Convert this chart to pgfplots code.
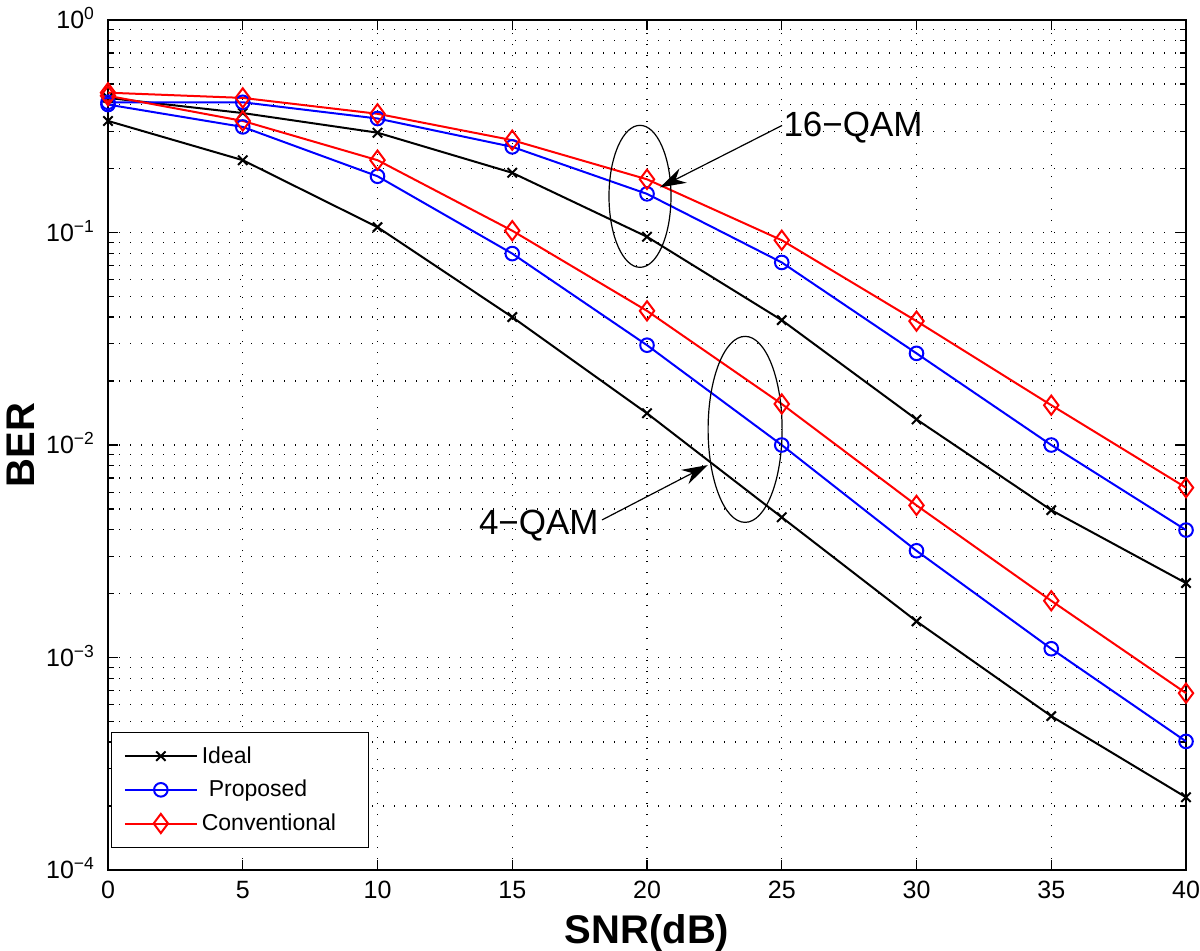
\documentclass[border=0pt]{standalone}
\usepackage{pgfplots}
\pgfplotsset{compat=1.18}
\usepackage{fontspec}
\setmainfont{Liberation Sans}
\usetikzlibrary{arrows.meta}

\begin{document}
\begin{tikzpicture}
\begin{axis}[
  name=ax,
  scale only axis, width=539pt, height=425pt,
  xmin=0, xmax=40, ymin=1e-4, ymax=1,
  ymode=log,
  clip=false,
  /pgf/number format/assume math mode=true,
  axis line style={line width=0.8pt},
  xtick={0,5,...,40},
  ytick={1e-4,1e-3,1e-2,1e-1,1},
  yticklabels={10\textsuperscript{−4},10\textsuperscript{−3},10\textsuperscript{−2},10\textsuperscript{−1},10\textsuperscript{0}},
  minor ytick={2e-4,3e-4,4e-4,5e-4,6e-4,7e-4,8e-4,9e-4,2e-3,3e-3,4e-3,5e-3,6e-3,7e-3,8e-3,9e-3,2e-2,3e-2,4e-2,5e-2,6e-2,7e-2,8e-2,9e-2,0.2,0.3,0.4,0.5,0.6,0.7,0.8,0.9},
  tick align=inside,
  major tick length=5pt, minor tick length=3pt,
  tick style={black, line width=0.6pt},
  xmajorgrids, ymajorgrids, yminorgrids,
  major grid style={black, line width=0.6pt, dash pattern=on 0.7pt off 4.8pt},
  minor grid style={black, line width=0.6pt, dash pattern=on 0.7pt off 4.8pt},
  ticklabel style={font=\fontsize{12.5}{14}\selectfont},
  xticklabel style={yshift=-2pt},
  yticklabel style={anchor=base east, yshift=-4.3pt, xshift=-3pt},
  xlabel={\textbf{SNR(dB)}},
  ylabel={\textbf{BER}},
  label style={font=\fontsize{20}{24}\selectfont},
  xlabel style={at={([yshift=-36.5pt]axis description cs:0.5,0)}, anchor=base},
  ylabel style={at={([xshift=-36.5pt]axis description cs:0,0.5)}, anchor=base},
  legend style={at={(0.003,0.026)}, anchor=south west, draw=black, line width=0.6pt, fill=white,
    font=\fontsize{11.5}{13}\selectfont, row sep=3pt, inner xsep=6pt, inner ysep=5pt, cells={anchor=west}},
  legend image code/.code={\draw[mark repeat=2,mark phase=2] plot coordinates {(0pt,0pt) (18pt,0pt) (36pt,0pt)};},
]
% 16-QAM
\addplot[black, line width=1pt, mark=x, mark size=3.3pt] coordinates {
(0,0.43) (5,0.365) (10,0.295) (15,0.191) (20,0.0955) (25,0.0387) (30,0.0132) (35,0.00494) (40,0.00224)};
\addlegendentry{Ideal}
\addplot[blue, line width=1pt, mark=o, mark size=3.4pt] coordinates {
(0,0.41) (5,0.41) (10,0.344) (15,0.253) (20,0.152) (25,0.0723) (30,0.027) (35,0.0100) (40,0.00398)};
\addlegendentry{\hspace{3.5pt}Proposed}
\addplot[red, line width=1pt, mark=diamond, mark size=4.8pt] coordinates {
(0,0.455) (5,0.43) (10,0.362) (15,0.272) (20,0.178) (25,0.092) (30,0.0383) (35,0.0154) (40,0.0063)};
\addlegendentry{Conventional\hspace*{8pt}}
% 4-QAM
\addplot[black, line width=1pt, mark=x, mark size=3.3pt, forget plot] coordinates {
(0,0.335) (5,0.219) (10,0.106) (15,0.040) (20,0.0141) (25,0.00457) (30,0.00148) (35,0.00053) (40,0.00022)};
\addplot[blue, line width=1pt, mark=o, mark size=3.4pt, forget plot] coordinates {
(0,0.40) (5,0.314) (10,0.184) (15,0.0796) (20,0.0295) (25,0.0100) (30,0.00318) (35,0.00110) (40,0.000403)};
\addplot[red, line width=1pt, mark=diamond, mark size=4.8pt, forget plot] coordinates {
(0,0.44) (5,0.335) (10,0.219) (15,0.102) (20,0.0428) (25,0.0156) (30,0.0052) (35,0.00185) (40,0.00068)};
% annotations
\draw[line width=0.6pt] (axis cs:19.74,0.148) ellipse [x radius=15.5pt, y radius=35.5pt];
\draw[line width=0.6pt] (axis cs:23.64,0.01185) ellipse [x radius=18.5pt, y radius=46.5pt];
\draw[line width=0.6pt, -{Stealth[length=13pt,width=8pt]}] (axis cs:25.01,0.319) -- (axis cs:20.48,0.163);
\node[anchor=west, inner sep=0pt, font=\fontsize{17.5}{20}\selectfont] at (axis cs:25.05,0.312) {16−QAM};
\draw[line width=0.6pt, -{Stealth[length=13pt,width=8pt]}] (axis cs:18.33,0.00444) -- (axis cs:22.26,0.00805);
\node[anchor=east, inner sep=0pt, font=\fontsize{17.5}{20}\selectfont] at (axis cs:18.22,0.0042) {4−QAM};
\end{axis}
\pgfresetboundingbox
\path[use as bounding box] ([xshift=-54pt,yshift=-40pt]ax.south west) rectangle ([xshift=7pt,yshift=10pt]ax.north east);
\end{tikzpicture}
\end{document}
